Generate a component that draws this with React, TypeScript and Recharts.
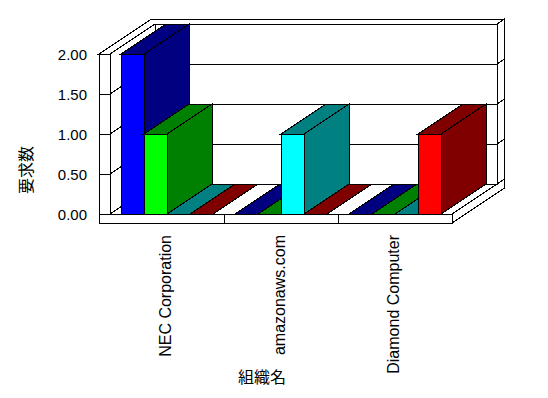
import React from 'react';
import { BarChart, Bar, XAxis, YAxis, CartesianGrid, ReferenceArea } from 'recharts';

// values
const categories = ['NEC Corporation', 'amazonaws.com', 'Diamond Computer'];
const seriesBlue = [2, 0, 0];
const seriesGreen = [1, 0, 0];
const seriesCyan = [0, 1, 0];
const seriesRed = [0, 0, 1];
const yTicks = [0, 0.5, 1, 1.5, 2];

const data = categories.map((name, i) => ({
  name,
  blue: seriesBlue[i],
  green: seriesGreen[i],
  cyan: seriesCyan[i],
  red: seriesRed[i],
}));

const seriesStyle = [
  { key: 'blue', front: '#0000ff', dark: '#000080' },
  { key: 'green', front: '#00ff00', dark: '#008000' },
  { key: 'cyan', front: '#00ffff', dark: '#008080' },
  { key: 'red', front: '#ff0000', dark: '#800000' },
];

// oblique depth of the 3d box
const DX = 45;
const DY = 30;
const WALL = 11;
const FLOOR = 9;
const BACK = 1 / 6;

const FONT = '"Liberation Sans", Arial, sans-serif';
const CJK = '"Noto Sans CJK JP", sans-serif';

const pt = (x: number, y: number, z: number) => `${x + z * DX},${y - z * DY}`;

function Box3D(props: any) {
  const { x, y, width, height, front, dark } = props;
  const x2 = x + width;
  const yb = y + height;
  return (
    <g stroke="#000" strokeWidth={1} shapeRendering="crispEdges">
      {height > 0 && <rect x={x} y={y} width={width} height={height} fill={front} />}
      <polygon points={`${x},${y} ${x2},${y} ${x2 + DX},${y - DY} ${x + DX},${y - DY}`} fill={dark} />
      {height > 0 && (
        <polygon points={`${x2},${y} ${x2 + DX},${y - DY} ${x2 + DX},${yb - DY} ${x2},${yb}`} fill={dark} />
      )}
    </g>
  );
}

function Frame(props: any) {
  const { x, y, width, height } = props;
  const L = x;
  const R = x + width;
  const T = y;
  const B = y + height;
  const z2 = 1 + BACK;
  const n = categories.length;
  return (
    <g fill="none" stroke="#000" strokeWidth={1} shapeRendering="crispEdges">
      <polygon points={[pt(L - WALL, T, 0), pt(L, T, 0), pt(L, B, 0), pt(R, B, 0), pt(R, B + FLOOR, 0), pt(L - WALL, B + FLOOR, 0)].join(' ')} />
      <polygon points={[pt(L - WALL, T, 0), pt(L, T, 0), pt(L, T, 1), pt(R, T, 1), pt(R, T, z2), pt(L - WALL, T, z2)].join(' ')} />
      <polygon points={[pt(R, T, 1), pt(R, T, z2), pt(R, B + FLOOR, z2), pt(R, B + FLOOR, 0), pt(R, B, 0), pt(R, B, 1)].join(' ')} />
      <polygon points={[pt(L, T, 1), pt(R, T, 1), pt(R, B, 1), pt(L, B, 1)].join(' ')} />
      <polyline points={[pt(L, B, 0), pt(L, B, 1)].join(' ')} />
      {categories.slice(1).map((c, i) => {
        const xb = L + (width * (i + 1)) / n;
        return <line key={c} x1={xb} y1={B} x2={xb} y2={B + FLOOR} />;
      })}
      <text
        transform="translate(25,170) rotate(-90)"
        textAnchor="middle"
        dominantBaseline="central"
        fontSize={16}
        fontFamily={CJK}
        fill="#000"
        stroke="none"
      >
        要求数
      </text>
      <text
        x={262}
        y={376}
        textAnchor="middle"
        dominantBaseline="central"
        fontSize={16}
        fontFamily={CJK}
        fill="#000"
        stroke="none"
      >
        組織名
      </text>
    </g>
  );
}

function GridLine3D(props: any) {
  const { x1, x2, y1, index } = props;
  const y = y1;
  return (
    <g key={`g${index}`} stroke="#000" strokeWidth={1} fill="none" shapeRendering="crispEdges">
      <line x1={x1 - WALL} y1={y} x2={x1} y2={y} />
      <line x1={x1} y1={y} x2={x1 + DX} y2={y - DY} />
      <line x1={x1 + DX} y1={y - DY} x2={x2 + DX} y2={y - DY} />
      <line x1={x2 + DX} y1={y - DY} x2={x2 + DX * (1 + BACK)} y2={y - DY * (1 + BACK)} />
    </g>
  );
}

function YTick(props: any) {
  const { x, y, payload } = props;
  return (
    <text x={x - 23} y={y} textAnchor="end" dominantBaseline="central" fontSize={15} fontFamily={FONT} fill="#000">
      {Number(payload.value).toFixed(2)}
    </text>
  );
}

function XTick(props: any) {
  const { x, y, payload } = props;
  return (
    <text transform={`translate(${x + 4},${y + 21}) rotate(-90)`} textAnchor="end" fontSize={16} fontFamily={FONT} fill="#000">
      {payload.value}
    </text>
  );
}

export default function App() {
  return (
    <div style={{ position: 'absolute', left: 0, top: 0, background: '#fff' }}>
      <BarChart
        width={548}
        height={398}
        data={data}
        margin={{ top: 54, right: 96, bottom: 0, left: 0 }}
        barSize={23}
        barGap={0}
      >
        <CartesianGrid vertical={false} horizontal={(p: any) => <GridLine3D {...p} />} />
        <ReferenceArea y1={0} y2={2} shape={(p: any) => <Frame {...p} />} />
        <XAxis
          dataKey="name"
          interval={0}
          height={184}
          tickLine={false}
          axisLine={false}
          tickSize={0}
          tickMargin={0}
          tick={<XTick />}
        />
        <YAxis
          domain={[0, 2]}
          ticks={yTicks}
          width={110}
          tickLine={false}
          axisLine={false}
          tickSize={0}
          tickMargin={0}
          tick={<YTick />}
        />
        {seriesStyle.map((s) => (
          <Bar
            key={s.key}
            dataKey={s.key}
            isAnimationActive={false}
            shape={(p: any) => <Box3D {...p} front={s.front} dark={s.dark} />}
          />
        ))}
      </BarChart>
    </div>
  );
}
